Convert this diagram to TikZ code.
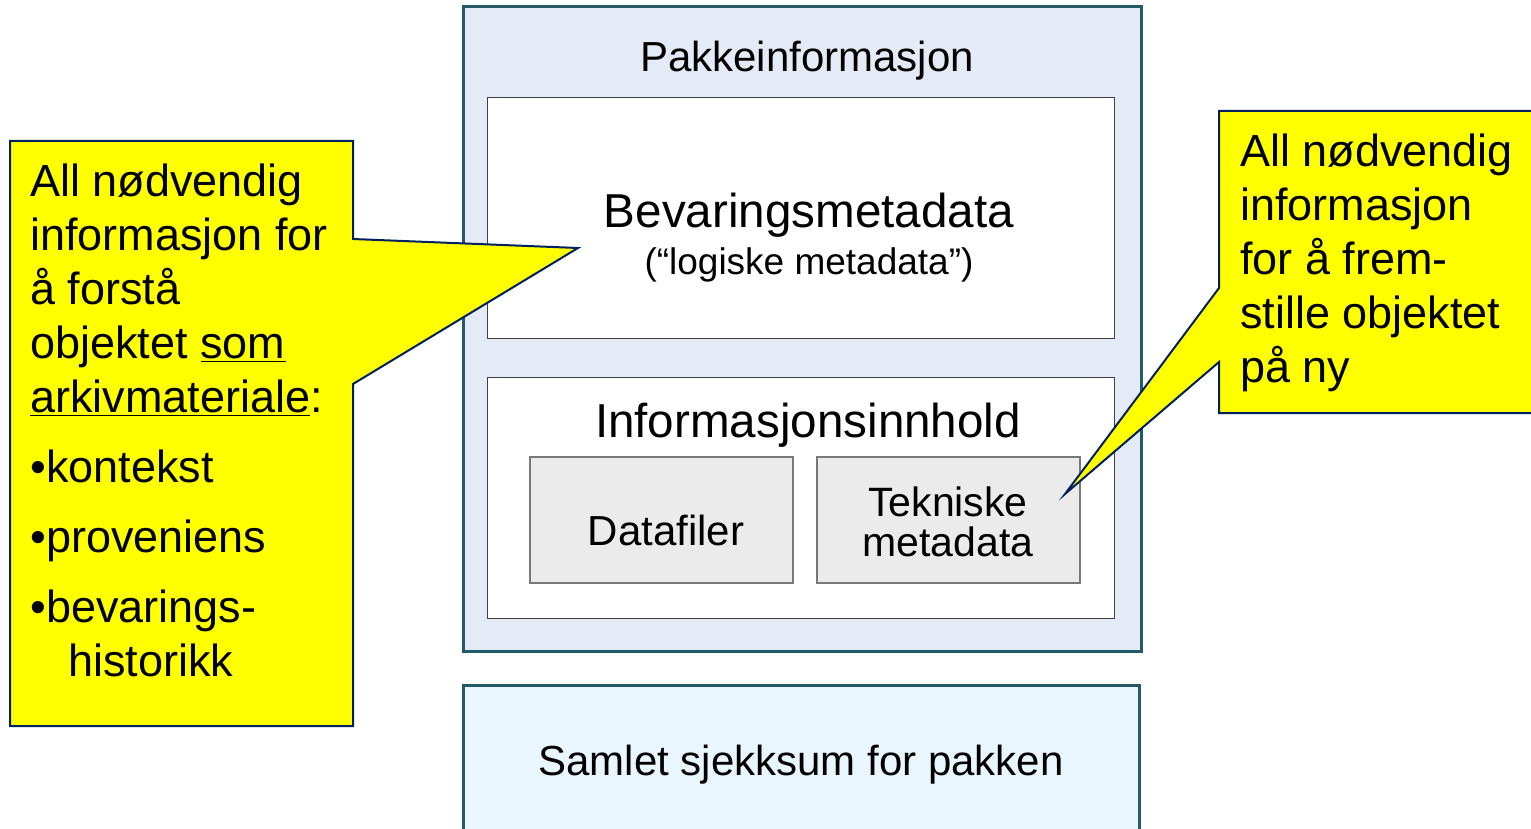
\documentclass[tikz,border=0pt]{standalone}
\usepackage{fontspec}
\setmainfont{Liberation Sans}
\usepackage{tikz}
\definecolor{pkgedge}{RGB}{36,89,104}
\definecolor{pkgfill}{RGB}{228,235,247}
\definecolor{sumfill}{RGB}{234,246,254}
\definecolor{filefill}{RGB}{235,235,235}
\definecolor{fileedge}{RGB}{120,120,120}
\definecolor{noteedge}{RGB}{0,32,96}
\definecolor{notefill}{RGB}{255,255,0}

\begin{document}
\begin{tikzpicture}[x=0.5pt,y=-0.5pt,
    pkgbox/.style={draw=pkgedge,line width=1.5pt},
    partbox/.style={draw=black!75,fill=white,line width=0.5pt},
    filebox/.style={draw=fileedge,fill=filefill,line width=0.6pt},
    note/.style={draw=noteedge,fill=notefill,line width=1pt,line join=miter},
    notetext/.style={inner sep=0pt,anchor=north west,align=left,font=\fontsize{22.5}{27}\selectfont},
    label/.style={inner sep=0pt,anchor=base}]
    \useasboundingbox (0,0) rectangle (1531,829);
    \draw[pkgbox,fill=pkgfill] (463,7) rectangle (1141,651);
    \draw[pkgbox,fill=sumfill] (463,685) rectangle (1139,845);
    \draw[partbox] (487,98) rectangle (1114,338);
    \draw[partbox] (487,377) rectangle (1114,618);
    \draw[filebox] (530,457) rectangle (793,583);
    \draw[filebox] (817,457) rectangle (1080,583);
    \node[label,font=\fontsize{21}{25}\selectfont] (pakke) at (807,72) {Pakkeinformasjon};
    \node[label,font=\fontsize{23.8}{28}\selectfont] (bevaring) at (809,227) {Bevaringsmetadata};
    \node[label,font=\fontsize{18.5}{22}\selectfont] (logiske) at (809,274) {(“logiske metadata”)};
    \node[label,font=\fontsize{23.8}{28}\selectfont] (innhold) at (808,437) {Informasjonsinnhold};
    \node[label,font=\fontsize{21}{25}\selectfont] (datafiler) at (666,545) {Datafiler};
    \node[inner sep=0pt,anchor=north,align=center,font=\fontsize{20.5}{20}\selectfont] (tekniske) at (948,486) {Tekniske\\metadata};
    \node[label,font=\fontsize{21}{25}\selectfont] (sjekksum) at (801,775) {Samlet sjekksum for pakken};
    % callouts
    \coordinate (tipL) at (578,248);
    \coordinate (tipR) at (1065,494);
    \draw[note] (10,141) -- (353,141) -- (353,239) -- (tipL) -- (353,384) -- (353,726) -- (10,726) -- cycle;
    \draw[note] (1219,111) -- (1545,111) -- (1545,413) -- (1219,413) -- (1219,362) -- (tipR) -- (1219,288) -- cycle;
    \node[notetext] (forstaa) at (30,163) {All nødvendig\\informasjon for\\å forstå\\objektet \underline{som}\\\underline{arkivmateriale}:\\[8pt]•kontekst\\[8pt]•proveniens\\[8pt]•bevarings-\\\hspace*{19pt}historikk};
    \node[notetext] (fremstille) at (1240,133) {All nødvendig\\informasjon\\for å frem-\\stille objektet\\på ny};
\end{tikzpicture}
\end{document}
